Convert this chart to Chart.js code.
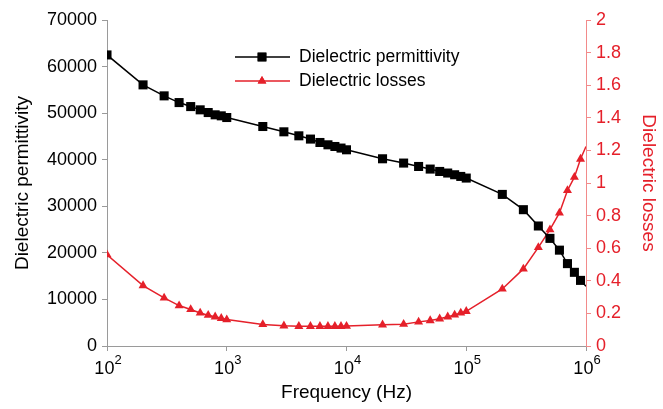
<!DOCTYPE html>
<html>
<head>
<meta charset="utf-8">
<script src="https://cdn.jsdelivr.net/npm/chart.js@4"></script>
<style>
  html, body { margin: 0; padding: 0; background: #fff; }
  #wrap { width: 663px; height: 409px; }
</style>
</head>
<body>
<div id="wrap"><canvas id="chart" width="663" height="409"></canvas></div>
<script>
// ─── Dados ───
const frequencies = [
  100, 200, 300, 400, 500, 600, 700, 800, 900, 1000,
  2000, 3000, 4000, 5000, 6000, 7000, 8000, 9000, 10000,
  20000, 30000, 40000, 50000, 60000, 70000, 80000, 90000, 100000,
  200000, 300000, 400000, 500000, 600000, 700000, 800000, 900000, 1000000
];
const permittivity = [
  62500, 56070, 53710, 52270, 51410, 50710, 50130, 49640, 49420, 49060,
  47130, 45990, 45130, 44430, 43700, 43200, 42840, 42500, 42130,
  40200, 39280, 38550, 37990, 37480, 37140, 36770, 36410, 36060,
  32550, 29270, 25770, 23110, 20580, 17690, 15820, 14090, 12820
];
const losses = [
  0.560, 0.371, 0.295, 0.248, 0.224, 0.203, 0.189, 0.179, 0.170, 0.162,
  0.132, 0.124, 0.121, 0.121, 0.121, 0.121, 0.121, 0.121, 0.122,
  0.130, 0.134, 0.148, 0.156, 0.167, 0.179, 0.191, 0.203, 0.213,
  0.350, 0.473, 0.605, 0.714, 0.816, 0.954, 1.036, 1.147, 1.224
];
const xTicks = [100, 1000, 10000, 100000, 1000000];
const xTickExponents = ['2', '3', '4', '5', '6'];
const seriesNames = ['Dielectric permittivity', 'Dielectric losses'];

const FONT = '"Liberation Sans", Arial, sans-serif';
const RED = '#e5202a';
const AXIS_GRAY = '#9a9a9a';
const AXIS_RED = '#f28a8a';

// o último ponto fica em cima do eixo, sem marcador
const hideLast = ctx => ctx.dataIndex === frequencies.length - 1 ? 0 : undefined;

// ─── Rótulos 10^n do eixo x (expoente em sobrescrito) ───
const powerLabels = {
  id: 'powerLabels',
  afterDraw(chart) {
    const ctx = chart.ctx;
    const xs = chart.scales.x;
    ctx.save();
    ctx.fillStyle = '#000';
    ctx.textBaseline = 'alphabetic';
    ctx.textAlign = 'left';
    xTicks.forEach((v, i) => {
      const px = xs.getPixelForValue(v);
      ctx.font = '18px ' + FONT;
      const wBase = ctx.measureText('10').width;
      ctx.font = '13px ' + FONT;
      const wSup = ctx.measureText(xTickExponents[i]).width;
      const x0 = px - (wBase + wSup) / 2 + 1;
      ctx.font = '18px ' + FONT;
      ctx.fillText('10', x0, 374);
      ctx.font = '13px ' + FONT;
      ctx.fillText(xTickExponents[i], x0 + wBase, 364);
    });
    ctx.restore();
  }
};

// ─── Legenda desenhada à mão (linha + marcador) ───
const legendPlugin = {
  id: 'lineLegend',
  afterDraw(chart) {
    const ctx = chart.ctx;
    const items = [
      { text: seriesNames[0], color: '#000', style: 'rect', r: 6.2, y: 57 },
      { text: seriesNames[1], color: RED, style: 'triangle', r: 5, y: 81 }
    ];
    ctx.save();
    items.forEach(it => {
      ctx.strokeStyle = it.color;
      ctx.lineWidth = 1.5;
      ctx.beginPath();
      ctx.moveTo(235, it.y);
      ctx.lineTo(290, it.y);
      ctx.stroke();
      ctx.fillStyle = it.color;
      Chart.helpers.drawPoint(ctx, { pointStyle: it.style, radius: it.r, borderWidth: 0 }, 262, it.y);
      ctx.fill();
      ctx.fillStyle = '#000';
      ctx.font = '17.5px ' + FONT;
      ctx.textBaseline = 'middle';
      ctx.fillText(it.text, 299, it.y);
    });
    ctx.restore();
  }
};

new Chart(document.getElementById('chart'), {
  type: 'line',
  data: {
    datasets: [
      {
        label: seriesNames[0],
        data: frequencies.map((f, i) => ({ x: f, y: permittivity[i] })),
        yAxisID: 'y',
        borderColor: '#000',
        backgroundColor: '#000',
        borderWidth: 1.5,
        pointStyle: 'rect',
        pointRadius: ctx => hideLast(ctx) ?? 6.4,
        pointBorderWidth: 0,
        tension: 0
      },
      {
        label: seriesNames[1],
        data: frequencies.map((f, i) => ({ x: f, y: losses[i] })),
        yAxisID: 'y2',
        borderColor: RED,
        backgroundColor: RED,
        borderWidth: 1.5,
        pointStyle: 'triangle',
        pointRadius: ctx => hideLast(ctx) ?? 5.2,
        pointBorderWidth: 0,
        tension: 0
      }
    ]
  },
  options: {
    responsive: false,
    animation: false,
    layout: { padding: { top: 20, left: 0, right: 0, bottom: 0 } },
    plugins: { legend: { display: false }, tooltip: { enabled: false } },
    scales: {
      x: {
        type: 'logarithmic',
        min: 100,
        max: 1000000,
        afterBuildTicks: s => { s.ticks = xTicks.map(v => ({ value: v })); },
        afterFit: s => { s.height = 63; },
        ticks: { display: true, autoSkip: false, maxRotation: 0, callback: () => '' },
        grid: { drawOnChartArea: false, tickLength: 5, color: AXIS_GRAY },
        border: { color: AXIS_GRAY },
        title: {
          display: true, text: 'Frequency (Hz)', color: '#000',
          font: { family: FONT, size: 19 }, padding: { top: 0, bottom: 5 }
        }
      },
      y: {
        position: 'left',
        min: 0,
        max: 70000,
        afterFit: s => { s.width = 107; },
        ticks: {
          stepSize: 10000, color: '#000', font: { family: FONT, size: 18 }, padding: 5,
          callback: v => String(v)
        },
        grid: { drawOnChartArea: false, tickLength: 5, color: AXIS_GRAY },
        border: { color: AXIS_GRAY },
        title: {
          display: true, text: 'Dielectric permittivity', color: '#000',
          font: { family: FONT, size: 19 }, padding: { top: 11, bottom: 0 }
        }
      },
      y2: {
        position: 'right',
        min: 0,
        max: 2,
        afterFit: s => { s.width = 77; },
        ticks: {
          stepSize: 0.2, color: RED, font: { family: FONT, size: 18 }, padding: 5,
          callback: v => String(Math.round(v * 10) / 10)
        },
        grid: { drawOnChartArea: false, tickLength: 5, color: AXIS_RED },
        border: { color: AXIS_RED },
        title: {
          display: true, text: 'Dielectric losses', color: RED,
          font: { family: FONT, size: 19 }, padding: { top: 3, bottom: 0 }
        }
      }
    }
  },
  plugins: [legendPlugin, powerLabels]
});
</script>
</body>
</html>
